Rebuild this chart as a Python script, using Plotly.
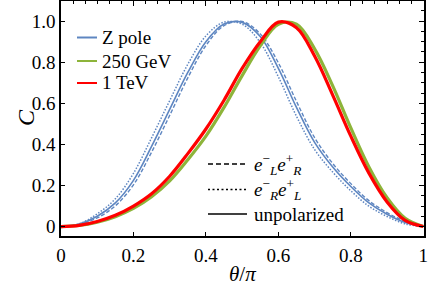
import plotly.graph_objects as go

# ---------------- data ----------------
theta = [0, 0.05, 0.10, 0.15, 0.20, 0.25, 0.30, 0.35, 0.40, 0.45, 0.50,
         0.55, 0.60, 0.65, 0.70, 0.75, 0.80, 0.85, 0.90, 0.95, 1.0]

# Z pole
z_unpol = [0, 0.012, 0.050, 0.115, 0.225, 0.390, 0.570, 0.750, 0.900, 0.986, 0.994,
           0.925, 0.770, 0.580, 0.410, 0.290, 0.195, 0.115, 0.060, 0.020, 0]
z_LR = [0, 0.011, 0.042, 0.101, 0.203, 0.362, 0.541, 0.724, 0.881, 0.978, 0.998,
        0.938, 0.797, 0.609, 0.433, 0.307, 0.209, 0.126, 0.068, 0.025, 0]
z_RL = [0, 0.013, 0.062, 0.135, 0.259, 0.432, 0.613, 0.790, 0.928, 0.995, 0.985,
        0.896, 0.729, 0.537, 0.375, 0.265, 0.174, 0.099, 0.049, 0.013, 0]

# 250 GeV
c_250 = [0, 0.005, 0.021, 0.048, 0.088, 0.145, 0.222, 0.325, 0.440, 0.580, 0.735,
         0.880, 0.985, 0.985, 0.865, 0.685, 0.480, 0.290, 0.140, 0.040, 0]
# 1 TeV
c_1tev = [0, 0.006, 0.025, 0.055, 0.100, 0.160, 0.245, 0.355, 0.475, 0.615, 0.770,
          0.900, 0.995, 0.968, 0.830, 0.640, 0.440, 0.260, 0.120, 0.030, 0]

x_ticks = [0, 0.2, 0.4, 0.6, 0.8, 1.0]
x_ticklabels = ["0", "0.2", "0.4", "0.6", "0.8", "1"]
y_ticks = [0, 0.2, 0.4, 0.6, 0.8, 1.0]
y_ticklabels = ["0", "0.2", "0.4", "0.6", "0.8", "1.0"]

series_names = ["Z pole", "250 GeV", "1 TeV"]
style_names = ["<i>e</i><sup>\u2212</sup><sub><i>L</i></sub><i>e</i><sup>+</sup><sub><i>R</i></sub>",
               "<i>e</i><sup>\u2212</sup><sub><i>R</i></sub><i>e</i><sup>+</sup><sub><i>L</i></sub>",
               "unpolarized"]

BLUE = "#5E86C1"
GREEN = "#8DB43A"
RED = "#FF0000"
FONT = "Liberation Serif, 'Times New Roman', Times, 'DejaVu Serif', serif"

fig = go.Figure()

# blue family (thin)
fig.add_trace(go.Scatter(x=theta, y=z_RL, mode="lines", line=dict(color=BLUE, width=1.5, dash="1.5px,1.6px", shape="spline"), showlegend=False))
fig.add_trace(go.Scatter(x=theta, y=z_LR, mode="lines", line=dict(color=BLUE, width=1.4, dash="4px,2px", shape="spline"), showlegend=False))
fig.add_trace(go.Scatter(x=theta, y=z_unpol, mode="lines", line=dict(color=BLUE, width=1.6, shape="spline"), name=series_names[0], showlegend=False))
# green and red (thick)
fig.add_trace(go.Scatter(x=theta, y=c_250, mode="lines", line=dict(color=GREEN, width=3.2, shape="spline"), name=series_names[1], showlegend=False))
fig.add_trace(go.Scatter(x=theta, y=c_1tev, mode="lines", line=dict(color=RED, width=3.2, shape="spline"), name=series_names[2], showlegend=False))

# dummy trace to carry the mirrored (top/right) axes
fig.add_trace(go.Scatter(x=[None], y=[None], xaxis="x2", yaxis="y2", showlegend=False, hoverinfo="skip"))

# ---------------- legends and axis titles (paper coordinates) ----------------
PL, PR, PT, PB = 61, 424, 1, 236
def px2paper(px, py):
    return (px - PL) / (PR - PL), (PB - py) / (PB - PT)

shapes = []
annotations = []
for nm, col, py in zip(series_names, [BLUE, GREEN, RED], [37.5, 61, 83]):
    x0, y0 = px2paper(77, py)
    x1, _ = px2paper(97, py)
    shapes.append(dict(type="line", xref="paper", yref="paper", x0=x0, x1=x1, y0=y0, y1=y0,
                       line=dict(color=col, width=2)))
    tx, _ = px2paper(100, py)
    annotations.append(dict(xref="paper", yref="paper", x=tx, y=y0, text=nm, showarrow=False,
                            xanchor="left", yanchor="middle", font=dict(family=FONT, size=19, color="black")))

for nm, dsh, py in zip(style_names, ["5px,3px", "2px,2.5px", "solid"], [164, 189.5, 214]):
    x0, y0 = px2paper(208, py)
    x1, _ = px2paper(247, py)
    shapes.append(dict(type="line", xref="paper", yref="paper", x0=x0, x1=x1, y0=y0, y1=y0,
                       line=dict(color="black", width=1.6, dash=dsh)))
    tx, _ = px2paper(252, py)
    annotations.append(dict(xref="paper", yref="paper", x=tx, y=y0, text=nm, showarrow=False,
                            xanchor="left", yanchor="middle", font=dict(family=FONT, size=19, color="black")))

# axis titles
tx, ty = px2paper(242, 274)
annotations.append(dict(xref="paper", yref="paper", x=tx, y=ty, text="<i>\u03b8</i>/<i>\u03c0</i>", showarrow=False,
                        xanchor="center", yanchor="middle", font=dict(family=FONT, size=21, color="black")))
tx, ty = px2paper(26, 118)
annotations.append(dict(xref="paper", yref="paper", x=tx, y=ty, text="<i>C</i>", showarrow=False, textangle=-90,
                        xanchor="center", yanchor="middle", font=dict(family=FONT, size=24, color="black")))

xr = [0, 1.002]
yr = [-0.046, 1.098]

common = dict(showgrid=False, zeroline=False, automargin=False, showline=True,
              linecolor="black", linewidth=1.5, tickcolor="black")

fig.update_layout(
    width=429, height=295, autosize=False,
    margin=dict(l=61, r=5, t=1, b=59, pad=0),
    paper_bgcolor="white", plot_bgcolor="white",
    font=dict(family=FONT, size=18, color="black"),
    showlegend=False,
    shapes=shapes, annotations=annotations,
    xaxis=dict(range=xr, ticks="inside", ticklen=4, tickwidth=1.2,
               tickvals=x_ticks, ticktext=x_ticklabels, ticklabelstandoff=1,
               tickfont=dict(family=FONT, size=19), **common),
    yaxis=dict(range=yr, ticks="inside", ticklen=4, tickwidth=1.2,
               tickvals=y_ticks, ticktext=y_ticklabels,
               tickfont=dict(family=FONT, size=19), **common),
    xaxis2=dict(range=xr, overlaying="x", side="top", anchor="y2",
                ticks="inside", ticklen=5, tickwidth=1.0, tickvals=x_ticks, showticklabels=False,
                minor=dict(ticks="inside", ticklen=3, tickwidth=1.0, tickcolor="black", tick0=0, dtick=1/30, showgrid=False),
                **common),
    yaxis2=dict(range=yr, overlaying="y", side="right", anchor="x2",
                ticks="inside", ticklen=5, tickwidth=1.0, tickvals=y_ticks, showticklabels=False,
                minor=dict(ticks="inside", ticklen=3, tickwidth=1.0, tickcolor="black", tick0=0, dtick=0.05, showgrid=False),
                **common),
)

fig.write_html("out.html", config={"displayModeBar": False},
               post_script="document.body.style.margin='0';")
